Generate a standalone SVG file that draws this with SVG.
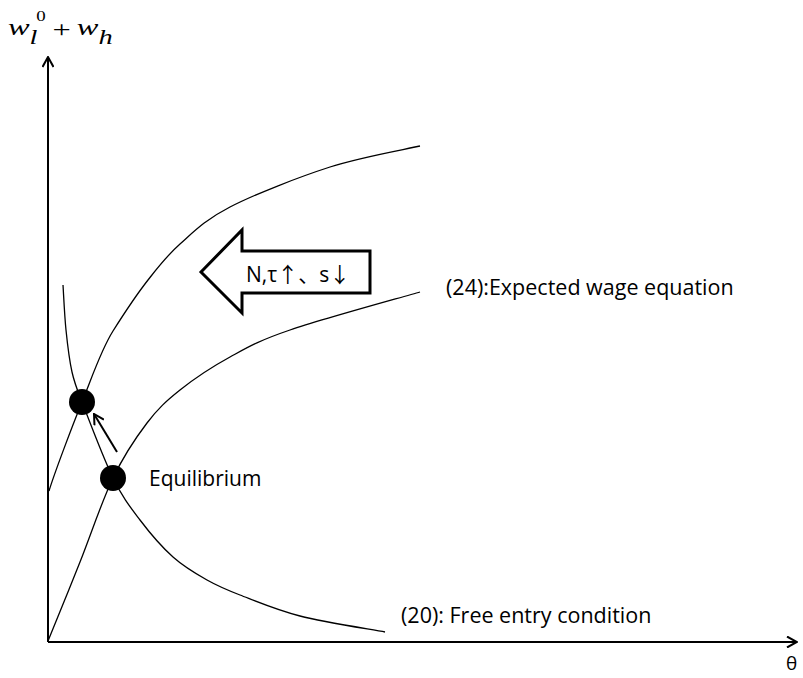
<svg xmlns="http://www.w3.org/2000/svg" width="803" height="678" viewBox="0 0 803 678">
<style>
.axis{stroke:#000;stroke-width:2;fill:none}
.curve{stroke:#000;stroke-width:1.3;fill:none}
.lbl{font-family:'Open Sans','Noto Sans CJK JP',sans-serif;font-size:21.5px;fill:#000}
.math{font-family:'Liberation Serif','Times New Roman',serif;fill:#000}
.dot{fill:#000}
</style>
<defs>
<marker id="open" viewBox="0 0 12 12" refX="11" refY="6" markerWidth="12" markerHeight="12" markerUnits="userSpaceOnUse" orient="auto">
<path d="M1,0.5 L11,6 L1,11.5" fill="none" stroke="#000" stroke-width="2"/>
</marker>
</defs>
<rect width="803" height="678" fill="#fff"/>
<g id="connectors">
<line id="y-axis" class="axis" x1="48" y1="642" x2="48" y2="57" marker-end="url(#open)"/>
<line id="x-axis" class="axis" x1="48" y1="642" x2="797" y2="642" marker-end="url(#open)"/>
<path id="upper-wage-curve" class="curve" d="M49,491 C53.7,475.3 71.2,428.7 82,402 C92.8,375.3 101,350 113,331 C125,312 136.8,294.3 148,280 C159.2,265.7 166.3,256.2 180,244 C193.7,231.8 205,219.8 230,207 C255,194.2 298.3,177.2 330,167 C361.7,156.8 405,149.5 420,146"/>
<path id="wage-curve" class="curve" d="M48,641 C53.3,627.8 69.2,589.2 80,562 C90.8,534.8 101.8,501.2 113,478 C124.2,454.8 135.8,437.7 147,423 C158.2,408.3 166.2,401 180,390 C193.8,379 211.7,367 230,357 C248.3,347 258.3,340.8 290,330 C321.7,319.2 398.3,298.3 420,292"/>
<path id="free-entry-curve" class="curve" d="M63,285 C63.5,292.5 64.5,315.3 66,330 C67.5,344.7 69.3,360 72,372 C74.7,384 76.5,388 82,402 C88.8,419.5 103.3,458.3 113,478 C122.7,497.7 130,506.8 140,520 C150,533.2 161.8,547 173,557 C184.2,567 195.8,573.7 207,580 C218.2,586.3 224.5,589 240,595 C255.5,601 275.8,609.8 300,616 C324.2,622.2 370.8,629.3 385,632"/>
<line id="shift-arrow" class="axis" x1="117" y1="452" x2="94" y2="414" marker-end="url(#open)"/>
</g>
<g id="shift-block">
<polygon points="201,272 242,230 242,251 370,251 370,293 242,293 242,313" fill="#fff" stroke="#000" stroke-width="3" stroke-linejoin="miter"/>
<text class="lbl" x="246" y="282" style="font-size:21px">N,τ↑、s↓</text>
</g>
<g id="eq-new">
<circle class="dot" cx="82" cy="402" r="13"/>
</g>
<g id="eq-old">
<circle class="dot" cx="113" cy="478" r="13"/>
<text class="lbl" x="149" y="486" style="font-size:21px">Equilibrium</text>
</g>
<g id="label-wage">
<text class="lbl" x="446" y="295">(24):Expected wage equation</text>
</g>
<g id="label-free">
<text class="lbl" x="401" y="623">(20): Free entry condition</text>
</g>
<g id="label-theta">
<text class="lbl" x="786" y="670" style="font-size:19px">θ</text>
</g>
<g id="label-y" transform="translate(8,0) scale(1.35,1)">
<text class="math" x="0" y="35" font-size="24" font-style="italic">w</text>
<text class="math" x="16" y="44" font-size="21" font-style="italic">l</text>
<text class="math" x="21" y="21" font-size="14">0</text>
<text class="math" x="33" y="37" font-size="24">+</text>
<text class="math" x="51" y="35" font-size="24" font-style="italic">w</text>
<text class="math" x="67" y="44" font-size="21" font-style="italic">h</text>
</g>
</svg>
